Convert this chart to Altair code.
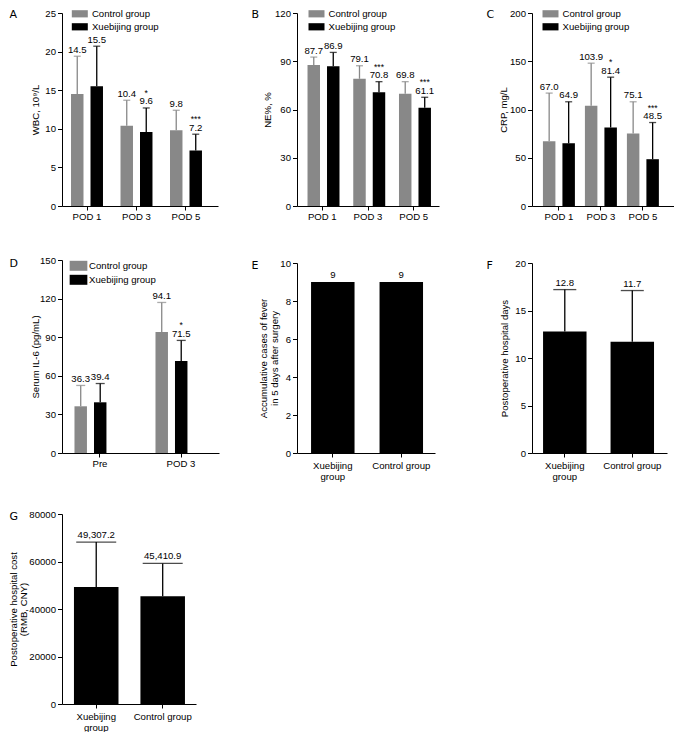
import altair as alt
import pandas as pd

FONT = "Liberation Sans"
LETTER_FONT = "DejaVu Sans"
GRAY = "#888888"
BLACK = "#000000"
FS = 9.6

groups = ["Control group", "Xuebijing group"]

# Panel A: WBC
a_cats = ["POD 1", "POD 3", "POD 5"]
a_ctrl = [14.5, 10.4, 9.8]
a_ctrl_top = [19.4, 13.7, 12.4]
a_xbj = [15.5, 9.6, 7.2]
a_xbj_top = [20.7, 12.7, 9.3]
a_sig = ["", "*", "***"]
a_ticks = [0, 5, 10, 15, 20, 25]

# Panel B: NE%
b_cats = ["POD 1", "POD 3", "POD 5"]
b_ctrl = [87.7, 79.1, 69.8]
b_ctrl_top = [92.6, 87.2, 77.3]
b_xbj = [86.9, 70.8, 61.1]
b_xbj_top = [95.5, 77.3, 67.6]
b_sig = ["", "***", "***"]
b_ticks = [0, 30, 60, 90, 120]

# Panel C: CRP
c_cats = ["POD 1", "POD 3", "POD 5"]
c_ctrl = [67.0, 103.9, 75.1]
c_ctrl_top = [117, 148, 108]
c_xbj = [64.9, 81.4, 48.5]
c_xbj_top = [108, 133.5, 86.5]
c_sig = ["", "*", "***"]
c_ticks = [0, 50, 100, 150, 200]

# Panel D: IL-6
d_cats = ["Pre", "POD 3"]
d_ctrl = [36.3, 94.1]
d_ctrl_top = [52.5, 117]
d_xbj = [39.4, 71.5]
d_xbj_top = [54, 87.5]
d_sig = ["", "*"]
d_ticks = [0, 30, 60, 90, 120, 150]

# Panels E, F, G
efg_cats = ["Xuebijing group", "Control group"]
e_vals = [9, 9]
e_labels = ["9", "9"]
e_ticks = [0, 2, 4, 6, 8, 10]

f_vals = [12.8, 11.7]
f_tops = [17.2, 17.1]
f_labels = ["12.8", "11.7"]
f_ticks = [0, 5, 10, 15, 20]

g_vals = [49307.2, 45410.9]
g_tops = [68200, 59200]
g_labels = ["49,307.2", "45,410.9"]
g_ticks = [0, 20000, 40000, 60000, 80000]

# legend swatches: wide flat rectangles
RECT_A = "M-2,-0.9H2V0.9H-2Z"     # 16 x 7.2 px at size 64
RECT_D = "M-2,-1.13H2V1.13H-2Z"   # 17.7 x 10 px at size 78.3


def letter_axis(letter, tx, ty):
    # a label-less top axis that only carries the panel letter
    return alt.Axis(orient="top", domain=False, ticks=False, labels=False,
                    title=letter, titleX=tx, titleY=ty, titleAngle=0,
                    titleAlign="left", titleBaseline="alphabetic",
                    titleFont=LETTER_FONT, titleFontSize=11,
                    titleFontWeight="normal", titleColor="black")


def y_axis(ticks, title, tx):
    return alt.Axis(values=ticks, title=title, titleX=tx, titleBaseline="middle",
                    titleAngle=-90, titleLineHeight=10.5, labelPadding=2,
                    tickSize=4.5, format="d")


def grouped(cats, ctrl, ctrl_top, xbj, xbj_top, sig, ymax, ticks, ytitle, tx,
            letter, ldx, ldy, w, h, band, sub, lx, ly, sym, symsize, lab_off,
            rowpad, cap):
    rows = []
    for i, c in enumerate(cats):
        rows.append({"cat": c, "grp": groups[0], "val": ctrl[i], "top": ctrl_top[i],
                     "lab": f"{ctrl[i]:.1f}", "sig": ""})
        rows.append({"cat": c, "grp": groups[1], "val": xbj[i], "top": xbj_top[i],
                     "lab": f"{xbj[i]:.1f}", "sig": sig[i]})
    df = pd.DataFrame(rows)
    xsc = alt.Scale(paddingInner=band[0], paddingOuter=band[1], align=band[2])
    x = alt.X("cat:N", sort=cats, title=None, scale=xsc,
              axis=alt.Axis(labelAngle=0, labelPadding=1, tickSize=4))
    x_none = alt.X("cat:N", sort=cats, title=None, scale=xsc, axis=None)
    x_top = alt.X("cat:N", sort=cats, scale=xsc, axis=letter_axis(letter, ldx, ldy))
    xo = alt.XOffset("grp:N", sort=groups, scale=alt.Scale(paddingInner=sub, paddingOuter=0))
    ysc = alt.Scale(domain=[0, ymax], nice=False)
    yax = y_axis(ticks, ytitle, tx)
    color = alt.Color("grp:N", sort=groups,
                      scale=alt.Scale(domain=groups, range=[GRAY, BLACK]),
                      legend=alt.Legend(title=None, orient="none", legendX=lx, legendY=ly,
                                        symbolType=sym, symbolSize=symsize,
                                        symbolStrokeWidth=0, symbolOpacity=1,
                                        labelFontSize=FS, labelFont=FONT,
                                        labelColor="black", labelOffset=lab_off,
                                        rowPadding=rowpad, padding=0))
    base = alt.Chart(df)
    bars = base.mark_bar().encode(x=x, xOffset=xo,
                                  y=alt.Y("val:Q", scale=ysc, axis=yax), color=color)
    err = base.mark_rule(strokeWidth=1.3).encode(
        x=x_none, xOffset=xo, y=alt.Y("val:Q", scale=ysc, axis=yax), y2="top:Q",
        color=color)
    caps = base.mark_tick(thickness=1.3, size=cap).encode(
        x=x_none, xOffset=xo, y=alt.Y("top:Q", scale=ysc, axis=yax), color=color)
    labs = base.mark_text(fontSize=FS, baseline="alphabetic", dy=-3.5, color="black",
                          font=FONT).encode(
        x=x_none, xOffset=xo, y=alt.Y("top:Q", scale=ysc, axis=yax), text="lab:N")
    stars = base.mark_text(fontSize=8.6, baseline="alphabetic", dy=-12, color="black",
                           font=FONT).encode(
        x=x_top, xOffset=xo, y=alt.Y("top:Q", scale=ysc, axis=yax), text="sig:N")
    return alt.layer(bars, err, caps, labs, stars).resolve_axis(
        x="independent").properties(width=w, height=h)


def single(vals, tops, labels, ymax, ticks, ytitle, tx, letter, ldx, ldy, w, h,
           yrange, band, cap):
    df = pd.DataFrame({"cat": efg_cats, "val": vals, "top": tops, "lab": labels})
    xsc = alt.Scale(paddingInner=band[0], paddingOuter=band[1], align=band[2])
    x = alt.X("cat:N", sort=efg_cats, title=None, scale=xsc,
              axis=alt.Axis(labelAngle=0, labelPadding=3, tickSize=4,
                            labelLineHeight=11,
                            labelExpr="datum.label == 'Xuebijing group' ? ['Xuebijing', 'group'] : datum.label"))
    x_none = alt.X("cat:N", sort=efg_cats, title=None, scale=xsc, axis=None)
    x_top = alt.X("cat:N", sort=efg_cats, scale=xsc, axis=letter_axis(letter, ldx, ldy))
    ysc = alt.Scale(domain=[0, ymax], nice=False, range=yrange)
    yax = y_axis(ticks, ytitle, tx)
    base = alt.Chart(df)
    layers = [base.mark_bar(color=BLACK).encode(x=x, y=alt.Y("val:Q", scale=ysc, axis=yax))]
    if cap > 0:
        layers.append(base.mark_rule(strokeWidth=1.3, color=BLACK).encode(
            x=x_none, y=alt.Y("val:Q", scale=ysc, axis=yax), y2="top:Q"))
        layers.append(base.mark_tick(thickness=1.3, size=cap, color=BLACK).encode(
            x=x_none, y=alt.Y("top:Q", scale=ysc, axis=yax)))
    layers.append(base.mark_text(fontSize=FS, baseline="alphabetic", dy=-4, color="black",
                                 font=FONT).encode(
        x=x_top, y=alt.Y("top:Q", scale=ysc, axis=yax), text="lab:N"))
    return alt.layer(*layers).resolve_axis(x="independent").properties(width=w, height=h)


def spacer(w):
    return alt.Chart(pd.DataFrame({"s": [0]})).mark_point(opacity=0, size=1).encode(
        x=alt.value(0), y=alt.value(0)).properties(width=w, height=1)


A = grouped(a_cats, a_ctrl, a_ctrl_top, a_xbj, a_xbj_top, a_sig, 25, a_ticks,
            "WBC, 10\u2079/L", -27, "A", -53, 4, 156, 193,
            (0.354, 0.253, 0.36), 0.36, 13, -4, RECT_A, 64, 7.3, 2.0, 7)
B = grouped(b_cats, b_ctrl, b_ctrl_top, b_xbj, b_xbj_top, b_sig, 120, b_ticks,
            "NE%, %", -29.5, "B", -46, 4, 142, 193,
            (0.355, 0.23, 0.5), 0.127, 14.7, -4, RECT_A, 64, 7.3, 2.0, 7)
C = grouped(c_cats, c_ctrl, c_ctrl_top, c_xbj, c_xbj_top, c_sig, 200, c_ticks,
            "CRP, mg/L", -28.5, "C", -46, 4, 142, 193,
            (0.238, 0.31, 0.42), 0.316, 13.7, -4, RECT_A, 64, 7.3, 2.0, 7)
D = grouped(d_cats, d_ctrl, d_ctrl_top, d_xbj, d_xbj_top, d_sig, 150, d_ticks,
            "Serum IL-6 (pg/mL)", -26.5, "D", -53, 6.4, 157, 193,
            (0.37, 0.154, 0.5), 0.3, 11.7, 1, RECT_D, 78.3, 5.8, 3.0, 9)
E = single(e_vals, e_vals, e_labels, 10, e_ticks,
           ["Accumulative cases of fever", "in 5 days after surgery"], -33.3,
           "E", -46, 8.3, 138, 193, [193, 3], (0.365, 0.19, 0.54), 0)
F = single(f_vals, f_tops, f_labels, 20, f_ticks, "Postoperative hospital days", -28,
           "F", -46, 8.3, 135, 193, [193, 3], (0.356, 0.178, 0.46), 23)
G = single(g_vals, g_tops, g_labels, 80000, g_ticks,
           ["Postoperative hospital cost", "(RMB, CNY)"], -48.8,
           "G", -53, 12.7, 134, 197, [197, 7], (0.33, 0.173, 0.52), 40)

chart = alt.concat(
    A, spacer(78), B, spacer(93), C,
    D, spacer(78), E, spacer(93), F,
    G,
    columns=5, spacing={"row": 54, "column": 0}, bounds="flush", align="each",
).resolve_scale(color="independent").properties(padding=0).configure_view(
    strokeWidth=0
).configure_axis(
    labelFont=FONT, titleFont=FONT, labelFontSize=FS, titleFontSize=FS,
    titleFontWeight="normal", labelColor="black", titleColor="black",
    domainColor="black", tickColor="black", domainWidth=1, tickWidth=1, grid=False
).configure_text(font=FONT)

chart.save("out.html", embed_options={"renderer": "svg", "actions": False})
